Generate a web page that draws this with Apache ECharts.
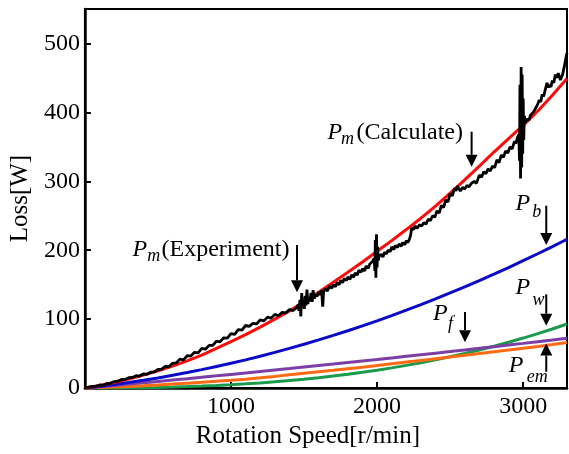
<!DOCTYPE html>
<html><head><meta charset="utf-8">
<script src="https://cdn.jsdelivr.net/npm/echarts@6/dist/echarts.min.js"></script>
<style>html,body{margin:0;padding:0;background:#fff}#c{width:569px;height:454px}</style>
</head><body><div id="c"></div>
<script>
// Rotation speed grid for model curves [r/min]
const speed = [0,100,200,300,400,500,600,700,800,900,1000,1100,1200,1300,1400,1500,1600,1700,1800,1900,2000,2100,2200,2300,2400,2500,2600,2700,2800,2900,3000,3100,3200,3300];
// Pm (Calculate) - red
const pmCalc = [0,3.8,8.2,13.2,18.9,25.2,32,39.5,47.8,57.5,67.5,77.5,88.5,100,112,125,139,153.5,168,183,198.5,214,230,246.5,264,283,302,322,342.5,362,381,402,425,449];
// Pb - blue
const pb = [0,2.4,5.2,8.1,11.3,14.8,18.5,22.5,26.8,31.3,36,41,46.3,51.8,57.6,63.6,69.9,76.4,83.2,90.3,97.6,105.2,113,121.1,129.4,138,146.9,156,165.3,174.9,184.8,194.9,205.3,216];
// Pf - purple
const pf = [0,1.9,3.8,5.8,7.7,9.7,11.7,13.7,15.8,17.8,19.9,22,24.1,26.2,28.3,30.5,32.7,34.8,37.1,39.3,41.5,43.8,46.1,48.4,50.7,53,55.4,57.7,60.1,62.5,64.9,67.4,69.8,72.3];
// Pem - orange
const pem = [0,0.8,1.6,2.5,3.5,4.6,5.8,7.1,8.4,9.8,11.3,12.9,14.9,17,19.2,21.4,23.6,25.8,28.1,30.4,32.8,35.2,37.7,40.2,42.7,45.2,47.7,50.2,52.7,55.3,57.9,60.5,63.2,66];
// Pw - green
const pw = [0,0.04,0.15,0.35,0.64,1.04,1.55,2.19,2.96,3.87,4.94,6.16,7.56,9.13,10.9,12.87,15.04,17.43,20.05,22.9,26,29.36,32.98,36.87,41.05,45.52,50.29,55.37,60.78,66.51,72.59,79.01,85.79,92.94];
// Pm (Experiment) - black, measured
const expSpeed = [0,25,50,75,100,125,150,175,200,225,250,275,300,325,350,375,400,425,450,475,500,525,550,575,600,625,650,675,700,725,750,775,800,825,850,875,900,925,950,975,1000,1025,1050,1075,1100,1125,1150,1175,1200,1225,1250,1275,1300,1325,1350,1375,1400,1425,1450,
1460,1465,1472,1478,1484,1490,1496,1502,1508,1514,1520,1526,1532,1540,1548,1556,1562,1570,1580,1590,1600,1610,1620,1628,1634,1645,
1660,1675,1690,1700,1715,1725,1740,1750,1765,1775,1790,1800,1815,1825,1840,1850,1865,1875,1890,1900,1915,1925,1940,1950,1960,1970,
1980,1985,1988,1992,1996,2000,2004,2008,2015,2030,2040,2050,2065,2075,2090,2100,2115,2125,2140,2150,2165,2175,2190,2200,2210,2220,2230,2236,2250,2260,2275,2290,2305,2320,2335,2350,2365,2380,2395,2410,2425,2440,2455,2470,2485,2500,2515,2530,2540,2550,2560,2570,2585,2600,2615,2630,2645,2665,2680,2700,2715,2730,2745,2760,2775,2790,2805,2820,2835,2850,2865,2880,2895,2910,2925,2940,2950,2960,
2970,2975,2978,2982,2986,2990,2993,2997,3000,3004,3008,3015,3022,3030,3040,3050,3060,3068,3080,3090,3100,3110,3120,3130,3140,3150,3163,3172,3180,3190,3200,3210,3220,3230,3240,3255,3262,3270,3285,3295,3300];
const expLoss = [1,1.5,2.5,2.5,4.5,4,6.5,7,9.5,10,12.5,12.5,15,15.5,18,17.5,20.5,20,23,23.5,27,27.5,31.5,31,36,36.5,42,41,47,46.5,52,51,57.5,56.5,62,62,68,67,73,72.5,79,78,85,84,91,89.5,94,93,99,97.5,103,101.5,107,105,110,109,114,112.5,117,
121,112,128,104,138,118,126,115,134,120,143,122,130,126,138,125,142,130,136,133,140,135,142,118,140,144,
141,148,145,150,147,153,150,156,153,159,156,161,158,164,161,167,164,171,168,173,170,177,174,180,178,184,
188,170,215,160,223,175,205,185,192,194,190,197,195,200,198,205,201,207,204,209,206,211,208,214,211,215,222,232,230,235,232,237,235,240,238,245,243,250,248,257,254,265,262,273,270,282,279,290,286,293,289,286,291,289,294,292,297,300,297,309,306,314,311,318,315,322,320,331,327,338,335,344,341,350,347,358,355,363,
368,330,440,304,466,320,455,340,420,360,395,385,390,392,389,396,394,400,404,408,412,418,415,426,423,432,443,436,440,437,446,443,455,450,457,447,451,455,470,482,486];

// Axis tick labels
const xTicks = [1000,2000,3000];
const yTicks = [0,100,200,300,400,500];

const toPairs = a => speed.map((s,i)=>[s,a[i]]);
const FONT = '"Liberation Serif", "Times New Roman", serif';

const chart = echarts.init(document.getElementById('c'), null, {renderer:'canvas'});
const lineS = (data,color,w) => ({type:'line', data, showSymbol:false, symbol:'none', lineStyle:{color, width:w}, itemStyle:{color}, animation:false, z:2});
chart.setOption({
  animation:false,
  grid:{left:80, right:2, top:9, bottom:61, show:true, borderColor:'#000', borderWidth:2, backgroundColor:'transparent'},
  xAxis:{type:'value', min:0, max:3300, interval:1000,
    name:'Rotation Speed[r/min]', nameLocation:'middle', nameGap:30,
    nameTextStyle:{fontFamily:FONT, fontSize:25, color:'#000', padding:[0,36,0,0]},
    axisLine:{show:true, onZero:false, lineStyle:{color:'#000', width:2.5}},
    axisTick:{show:true, inside:true, length:6, lineStyle:{color:'#000', width:2}},
    axisLabel:{fontFamily:FONT, fontSize:24, color:'#000', margin:7, showMinLabel:false, showMaxLabel:false,
      formatter:v=> xTicks.includes(v)? String(v):''},
    splitLine:{show:false}},
  yAxis:{type:'value', min:0, max:550, interval:100,
    name:'Loss[W]', nameLocation:'middle', nameGap:46, nameRotate:90,
    nameTextStyle:{fontFamily:FONT, fontSize:25, color:'#000'},
    axisLine:{show:true, lineStyle:{color:'#000', width:2.5}},
    axisTick:{show:true, inside:true, length:6, lineStyle:{color:'#000', width:2}},
    axisLabel:{fontFamily:FONT, fontSize:24, color:'#000', margin:5, showMaxLabel:false,
      formatter:v=> yTicks.includes(v)? String(v):''},
    splitLine:{show:false}},
  series:[
    lineS(toPairs(pw),'#1a9a4a',3),
    lineS(toPairs(pem),'#ff6a13',3),
    lineS(toPairs(pf),'#7b3fa6',3),
    lineS(toPairs(pb),'#0a0ac8',3),
    lineS(toPairs(pmCalc),'#ff0a0a',3),
    lineS(expSpeed.map((s,i)=>[s,expLoss[i]]),'#000',2.8)
  ]
});

// Annotations anchored in data coordinates
const labels = [
  {at:[1660,370.4], sub:'m', sdx:13.5, sdy:6, rest:'(Calculate)', rdx:29},
  {at:[326,201], sub:'m', sdx:14.7, sdy:7, rest:'(Experiment)', rdx:29},
  {at:[2948,266.9], sub:'b', sdx:16.7, sdy:8},
  {at:[2948,146.1], sub:'w', sdx:17, sdy:13},
  {at:[2383,108.3], sub:'f', sdx:15, sdy:11},
  {at:[2902,31.9], sub:'em', sdx:18, sdy:11}
];
const arrows = [
  [[2647,372],[2647,321]],
  [[1452,207.6],[1452,139]],
  [[3158,264.7],[3158,207.6]],
  [[3158,136],[3158,90.4]],
  [[2602,110.4],[2602,66.6]],
  [[3158,23.7],[3158,64.7]]
];
const g = [];
labels.forEach(l=>{
  const p = chart.convertToPixel({gridIndex:0}, l.at);
  g.push({type:'text', x:p[0], y:p[1], style:{text:'P', font:'italic 24px '+FONT, fill:'#000', verticalAlign:'middle', align:'left'}, z:10});
  g.push({type:'text', x:p[0]+l.sdx, y:p[1]+l.sdy, style:{text:l.sub, font:'italic 18px '+FONT, fill:'#000', verticalAlign:'middle', align:'left'}, z:10});
  if(l.rest) g.push({type:'text', x:p[0]+l.rdx, y:p[1], style:{text:l.rest, font:'24px '+FONT, fill:'#000', verticalAlign:'middle', align:'left'}, z:10});
});
arrows.forEach(a=>{
  const s = chart.convertToPixel({gridIndex:0}, a[0]);
  const t = chart.convertToPixel({gridIndex:0}, a[1]);
  const dir = Math.sign(t[1]-s[1]);
  const hl = 12, hw = 6;
  g.push({type:'line', shape:{x1:s[0], y1:s[1], x2:t[0], y2:t[1]-dir*hl}, style:{stroke:'#000', lineWidth:2}, z:10});
  g.push({type:'polygon', shape:{points:[[t[0],t[1]],[t[0]-hw,t[1]-dir*hl],[t[0]+hw,t[1]-dir*hl]]}, style:{fill:'#000'}, z:10});
});
chart.setOption({graphic:g});
</script></body></html>
